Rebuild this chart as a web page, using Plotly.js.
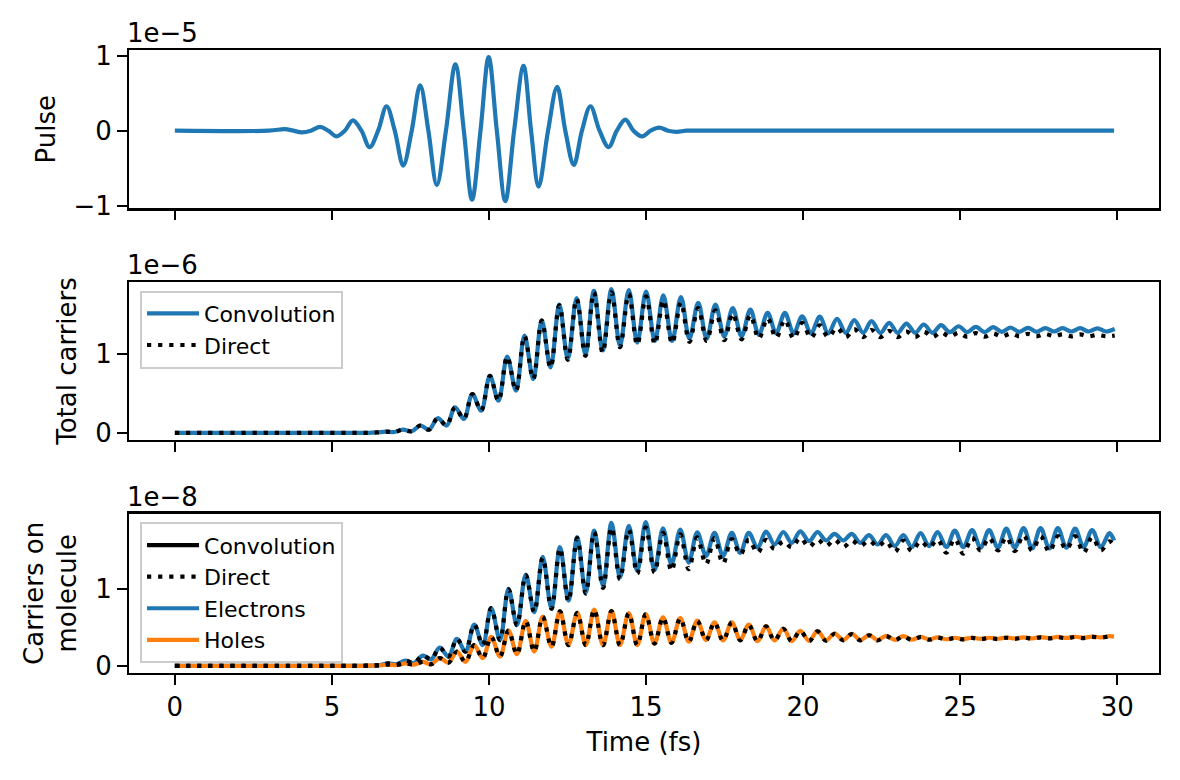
<!DOCTYPE html>
<html>
<head>
<meta charset="utf-8">
<script src="https://cdn.plot.ly/plotly-3.0.1.min.js"></script>
<style>html,body{margin:0;padding:0;background:#fff;}#chart{width:1180px;height:780px;}</style>
</head>
<body>
<div id="chart"></div>
<script>
// ---- Pulse (units of 1e-5) ----
const tPulse = [0, 3.0, 3.5, 3.77, 4.04, 4.33, 4.62, 4.88, 5.15, 5.41, 5.67, 5.94, 6.2, 6.47, 6.74, 7.0, 7.27, 7.54, 7.81, 8.07, 8.34, 8.63, 8.93, 9.2, 9.46, 9.73, 9.99, 10.25, 10.52, 10.8, 11.1, 11.34, 11.58, 11.88, 12.17, 12.43, 12.7, 12.96, 13.23, 13.52, 13.81, 14.07, 14.34, 14.6, 14.87, 15.15, 15.42, 15.7, 15.97, 16.3, 17.0, 29.9];
const pulse = [0, 0, 0.02, 0, -0.022, 0, 0.05, 0, -0.076, 0, 0.138, 0, -0.219, 0, 0.326, 0, -0.466, 0, 0.604, 0, -0.725, 0, 0.886, 0, -0.92, 0, 0.98, 0, -0.94, 0, 0.863, 0, -0.747, 0, 0.586, 0, -0.456, 0, 0.326, 0, -0.219, 0, 0.148, 0, -0.076, 0, 0.04, 0, -0.015, 0, 0, 0];

// ---- Total carriers (units of 1e-6) ----
const tTot = [0,0.36,0.63,0.91,1.19,1.46,1.74,2.01,2.29,2.57,2.84,3.12,3.4,3.67,3.95,4.22,4.5,4.78,5.05,5.33,5.61,5.88,6.16,6.43,6.71,6.99,7.26,7.54,7.82,8.09,8.37,8.65,8.92,9.2,9.47,9.75,10.03,10.3,10.58,10.86,11.13,11.41,11.68,11.96,12.24,12.51,12.79,13.07,13.34,13.62,13.9,14.17,14.45,14.72,15,15.28,15.55,15.83,16.11,16.38,16.66,16.93,17.21,17.49,17.76,18.04,18.32,18.59,18.87,19.14,19.42,19.7,19.97,20.25,20.53,20.8,21.08,21.36,21.63,21.91,22.18,22.46,22.74,23.01,23.29,23.57,23.84,24.12,24.39,24.67,24.95,25.22,25.5,25.78,26.05,26.33,26.6,26.88,27.16,27.43,27.71,27.99,28.26,28.54,28.82,29.09,29.37,29.64,29.92];
const totConv = [0,0,0,0,0,0,0,0,0,0,0,0,0,0,0,0,0,0,0,0,0,0,0,
  0.005,0.015,0.01,0.04,0.02,0.093,0.04,0.186,0.093,0.325,0.177,0.494,0.283,0.726,0.409,0.97,0.536,1.24,0.684,1.434,0.833,1.633,
  0.94,1.717,1.0,1.81,1.05,1.83,1.11,1.82,1.15,1.80,1.17,1.75,1.17,1.73,1.2,1.655,1.2,1.633,1.23,1.59,1.23,1.57,1.25,1.527,1.27,
  1.527,1.266,1.485,1.266,1.48,1.266,1.452,1.274,1.435,1.274,1.422,1.274,1.401,1.274,1.392,1.274,1.38,1.274,1.371,1.283,1.358,1.283,1.35,1.283,1.346,1.287,1.342,1.287,1.338,1.287,1.333,1.291,1.333,1.291,1.333,1.291,1.33,1.291,1.325];
const totDirect = [0,0,0,0,0,0,0,0,0,0,0,0,0,0,0,0,0,0,0,0,0,0,0,
  0.005,0.015,0.01,0.04,0.02,0.093,0.04,0.186,0.093,0.325,0.177,0.494,0.283,0.726,0.409,0.97,0.536,1.235,0.684,1.43,0.83,1.625,
  0.93,1.71,0.98,1.79,1.02,1.79,1.09,1.77,1.12,1.74,1.13,1.69,1.14,1.66,1.16,1.59,1.17,1.56,1.18,1.52,1.19,1.5,1.2,1.46,1.21,
  1.44,1.2,1.40,1.21,1.37,1.22,1.34,1.22,1.32,1.22,1.31,1.22,1.3,1.22,1.29,1.22,1.29,1.22,1.28,1.225,1.275,1.225,1.27,1.225,1.265,1.225,1.265,1.23,1.26,1.23,1.26,1.23,1.255,1.23,1.255,1.23,1.25,1.23,1.24];

// ---- Carriers on molecule (units of 1e-8) ----
const tMol = [0,0.51,0.78,1.05,1.33,1.6,1.87,2.15,2.42,2.69,2.97,3.24,3.51,3.79,4.06,4.33,4.61,4.88,5.15,5.43,5.7,5.97,6.25,6.52,6.79,7.07,7.34,7.61,7.89,8.16,8.43,8.71,8.98,9.25,9.53,9.8,10.07,10.35,10.62,10.89,11.17,11.44,11.71,11.99,12.26,12.53,12.81,13.08,13.35,13.63,13.9,14.17,14.45,14.72,14.99,15.27,15.54,15.81,16.09,16.36,16.63,16.91,17.18,17.45,17.73,18,18.27,18.55,18.82,19.09,19.37,19.64,19.91,20.19,20.46,20.73,21,21.28,21.55,21.82,22.1,22.37,22.64,22.92,23.19,23.46,23.74,24.01,24.28,24.56,24.83,25.1,25.38,25.65,25.92,26.2,26.47,26.74,27.02,27.29,27.56,27.84,28.11,28.38,28.66,28.93,29.2,29.48,29.75,29.9];
const elecConv = [0,0,0,0,0,0,0,0,0,0,0,0,0,0,0,0,0,0,0,0,0,0,
  0.003,0.01,0.03,0.02,0.068,0.035,0.133,0.085,0.236,0.12,0.35,0.184,0.536,0.27,0.75,0.335,1.0,0.528,1.188,0.699,1.416,0.742,1.544,
  0.849,1.673,0.956,1.759,1.042,1.86,1.149,1.82,1.235,1.87,1.244,1.789,1.321,1.772,1.343,1.737,1.429,1.73,1.429,1.73,1.47,1.73,1.536,1.746,1.579,
  1.741,1.6,1.75,1.622,1.741,1.63,1.716,1.63,1.716,1.6,1.699,1.579,1.699,1.557,1.699,1.544,1.725,1.557,1.741,1.544,1.758,1.544,1.767,1.536,1.767,1.536,1.784,1.536,1.793,1.527,1.793,1.527,1.793,1.536,1.784,1.544,1.767,1.544,1.725,1.63];
const elecDirect = [0,0,0,0,0,0,0,0,0,0,0,0,0,0,0,0,0,0,0,0,0,0,
  0.003,0.01,0.03,0.02,0.068,0.035,0.133,0.085,0.236,0.12,0.35,0.184,0.536,0.27,0.75,0.335,0.995,0.528,1.18,0.699,1.405,0.742,1.53,
  0.84,1.66,0.94,1.74,1.012,1.80,1.128,1.77,1.201,1.80,1.214,1.73,1.235,1.71,1.257,1.67,1.321,1.66,1.33,1.65,1.45,1.64,1.47,1.64,1.52,
  1.62,1.54,1.665,1.545,1.643,1.557,1.643,1.544,1.63,1.557,1.63,1.55,1.622,1.484,1.63,1.493,1.622,1.536,1.643,1.471,1.652,1.458,1.665,1.501,1.665,1.501,1.673,1.493,1.699,1.501,1.686,1.484,1.686,1.514,1.686,1.471,1.673,1.501,1.62,1.56];
const holesConv = [0,0,0,0,0,0,0,0,0,0,0,0,0,0,0,0,0,0,0,0,0,0,
  0.002,0.005,0.015,0.01,0.03,0.015,0.05,0.02,0.1,0.04,0.185,0.05,0.27,0.099,0.377,0.12,0.459,0.15,0.585,0.185,0.64,0.249,0.71,
  0.27,0.69,0.27,0.73,0.27,0.715,0.27,0.686,0.27,0.674,0.292,0.631,0.3,0.622,0.313,0.588,0.335,0.566,0.33,0.566,0.335,0.536,0.32,0.515,0.33,
  0.485,0.32,0.455,0.325,0.45,0.33,0.42,0.335,0.415,0.335,0.40,0.335,0.39,0.337,0.385,0.34,0.375,0.343,0.37,0.345,0.365,0.347,0.365,0.35,0.365,0.352,0.368,0.355,0.37,0.357,0.372,0.36,0.375,0.362,0.378,0.365,0.38,0.37,0.385,0.38];
const holesDirect = [0,0,0,0,0,0,0,0,0,0,0,0,0,0,0,0,0,0,0,0,0,0,
  0.002,0.005,0.015,0.01,0.03,0.015,0.05,0.02,0.1,0.04,0.185,0.05,0.27,0.099,0.377,0.12,0.459,0.15,0.583,0.185,0.638,0.247,0.708,
  0.268,0.688,0.268,0.728,0.267,0.712,0.267,0.684,0.268,0.671,0.288,0.628,0.297,0.619,0.31,0.585,0.331,0.563,0.327,0.563,0.331,0.533,0.317,0.512,0.327,
  0.482,0.317,0.452,0.321,0.447,0.326,0.417,0.331,0.412,0.331,0.397,0.331,0.387,0.333,0.382,0.336,0.372,0.339,0.367,0.341,0.362,0.343,0.362,0.346,0.362,0.348,0.365,0.351,0.367,0.353,0.369,0.356,0.372,0.358,0.375,0.361,0.377,0.366,0.382,0.376];

// ---- Axis ticks / labels ----
const xTicks = [0, 5, 10, 15, 20, 25, 30];
const yTicksPulse = [-1, 0, 1];
const yTicksCarriers = [0, 1];
const offsetLabels = ['1e\u22125', '1e\u22126', '1e\u22128'];
const yTitles = ['Pulse', 'Total carriers', 'Carriers on<br>molecule'];

const BLUE = '#1f77b4', ORANGE = '#ff7f0e';
const LW = 4.2;
const DOT = '4.2px,6.9px';
const FONT = 'DejaVu Sans';
const FS = 26;

const traces = [
  {x: tPulse, y: pulse, xaxis: 'x', yaxis: 'y', mode: 'lines', line: {color: BLUE, width: LW, shape: 'spline'}, showlegend: false},
  {x: tTot, y: totConv, xaxis: 'x2', yaxis: 'y2', mode: 'lines', name: 'Convolution', legend: 'legend2', legendrank: 1,
   line: {color: BLUE, width: LW, shape: 'spline'}},
  {x: tTot, y: totDirect, xaxis: 'x2', yaxis: 'y2', mode: 'lines', name: 'Direct', legend: 'legend2', legendrank: 2,
   line: {color: '#000', width: LW, dash: DOT, shape: 'spline'}},
  {x: tMol, y: elecConv, xaxis: 'x3', yaxis: 'y3', mode: 'lines', name: 'Electrons', legend: 'legend3', legendrank: 3,
   line: {color: BLUE, width: LW, shape: 'spline'}},
  {x: tMol, y: holesConv, xaxis: 'x3', yaxis: 'y3', mode: 'lines', name: 'Holes', legend: 'legend3', legendrank: 4,
   line: {color: ORANGE, width: LW, shape: 'spline'}},
  {x: tMol, y: elecDirect, xaxis: 'x3', yaxis: 'y3', mode: 'lines', name: 'Direct', legend: 'legend3', legendrank: 2,
   line: {color: '#000', width: LW, dash: DOT, shape: 'spline'}},
  {x: tMol, y: holesDirect, xaxis: 'x3', yaxis: 'y3', mode: 'lines', name: 'Direct', legend: 'legend3', showlegend: false,
   line: {color: '#000', width: LW, dash: DOT, shape: 'spline'}},
  {x: [null], y: [null], xaxis: 'x3', yaxis: 'y3', mode: 'lines', name: 'Convolution', legend: 'legend3', legendrank: 1,
   line: {color: '#000', width: LW}}
];

function xax(anchor, labels) {
  const a = {
    anchor: anchor, domain: [0, 1], range: [-1.46, 31.33],
    tickmode: 'array', tickvals: xTicks, ticktext: xTicks.map(String),
    showticklabels: labels, ticks: 'outside', ticklen: 9.7, tickwidth: 2.2, tickcolor: '#000',
    showline: true, linecolor: '#000', linewidth: 2.2, mirror: true,
    showgrid: false, zeroline: false,
    tickfont: {family: FONT, size: FS, color: '#000'}
  };
  if (labels) a.title = {text: 'Time (fs)', font: {family: FONT, size: FS, color: '#000'}, standoff: 12};
  return a;
}
function yax(anchor, domain, range, ticks, title) {
  return {
    anchor: anchor, domain: domain, range: range,
    tickmode: 'array', tickvals: ticks, ticktext: ticks.map(v => v < 0 ? '\u2212' + Math.abs(v) : String(v)),
    ticks: 'outside', ticklen: 9.7, tickwidth: 2.2, tickcolor: '#000',
    showline: true, linecolor: '#000', linewidth: 2.2, mirror: true,
    showgrid: false, zeroline: false,
    tickfont: {family: FONT, size: FS, color: '#000'},
    title: {text: title, font: {family: FONT, size: FS, color: '#000'}, standoff: 11}
  };
}
const dom1 = [0.7459, 1], dom2 = [0.374, 0.6276], dom3 = [0, 0.2557];
const legendStyle = (y) => ({
  x: 0.0107, y: y, xanchor: 'left', yanchor: 'top',
  bgcolor: 'rgba(255,255,255,0.8)', bordercolor: '#cccccc', borderwidth: 2,
  font: {family: FONT, size: 22, color: '#000'}, traceorder: 'normal', tracegroupgap: 0,
  itemwidth: 52
});

const layout = {
  width: 1180, height: 780,
  margin: {l: 129, r: 21, t: 50, b: 107},
  paper_bgcolor: '#fff', plot_bgcolor: '#fff',
  font: {family: FONT, size: FS, color: '#000'},
  showlegend: true,
  xaxis: xax('y', false),
  xaxis2: xax('y2', false),
  xaxis3: xax('y3', true),
  yaxis: yax('x', dom1, [-1.035, 1.076], yTicksPulse, yTitles[0]),
  yaxis2: yax('x2', dom2, [-0.0915, 1.9215], yTicksCarriers, yTitles[1]),
  yaxis3: yax('x3', dom3, [-0.094, 1.979], yTicksCarriers, yTitles[2]),
  legend2: legendStyle(0.6138),
  legend3: legendStyle(0.242),
  annotations: [dom1, dom2, dom3].map((d, i) => ({
    xref: 'paper', yref: 'paper', x: 0, y: d[1], xanchor: 'left', yanchor: 'bottom',
    text: offsetLabels[i], showarrow: false, font: {family: FONT, size: FS, color: '#000'}, xshift: -4, yshift: 0
  }))
};

Plotly.newPlot('chart', traces, layout, {displayModeBar: false, staticPlot: true});
</script>
</body>
</html>
